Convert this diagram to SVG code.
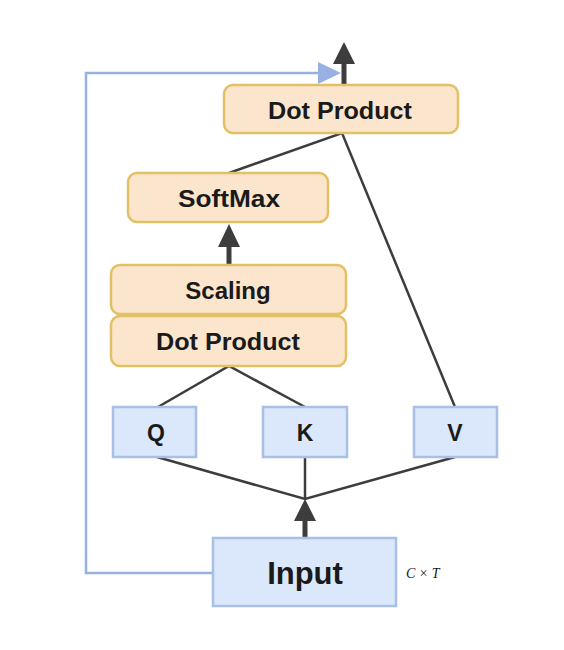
<svg xmlns="http://www.w3.org/2000/svg" width="564" height="650" viewBox="0 0 564 650">
<style>
.o{fill:#fbe6cd;stroke:#e2c066;stroke-width:2.5}
.b{fill:#dbe7fa;stroke:#a9c0e6;stroke-width:2.5}
.t{font-family:"Liberation Sans",Arial,sans-serif;font-weight:bold;fill:#1a1a1a;text-anchor:middle;dominant-baseline:central}
.l{fill:none;stroke:#3d3d3d;stroke-width:2.5}
.a{fill:none;stroke:#3d3d3d;stroke-width:5}
.h{fill:#3d3d3d}
</style>
<rect width="564" height="650" fill="#fff"/>
<g id="connectors">
<polyline points="213,573 86,573 86,73 320,73" fill="none" stroke="#98b0e2" stroke-width="2.5"/>
<polygon points="341,73 318,62 318,84" fill="#98b0e2"/>
<line class="a" x1="344" y1="85" x2="344" y2="62"/>
<polygon class="h" points="344,42 333,64 355,64"/>
<polyline class="l" points="229,173 342,133 455,407"/>
<line class="a" x1="229" y1="265" x2="229" y2="245"/>
<polygon class="h" points="229,224 218,247 240,247"/>
<polyline class="l" points="158,407 229,366 305,407"/>
<polyline class="l" points="157,457 305,499 455,457"/>
<line class="l" x1="305" y1="457" x2="305" y2="499"/>
<line class="a" x1="305" y1="538" x2="305" y2="518"/>
<polygon class="h" points="305,499 294,521 316,521"/>
</g>
<g id="dot2"><rect class="o" x="224" y="85" width="234" height="48" rx="9"/><text class="t" x="340" y="110" font-size="24" textLength="144" lengthAdjust="spacingAndGlyphs">Dot Product</text></g>
<g id="softmax"><rect class="o" x="128" y="173" width="200" height="49" rx="9"/><text class="t" x="229" y="198" font-size="24" textLength="102" lengthAdjust="spacingAndGlyphs">SoftMax</text></g>
<g id="scaling"><rect class="o" x="111" y="265" width="235" height="49" rx="9"/><text class="t" x="228" y="290" font-size="24">Scaling</text></g>
<g id="dot1"><rect class="o" x="111" y="316" width="235" height="50" rx="9"/><text class="t" x="228" y="341" font-size="24" textLength="144" lengthAdjust="spacingAndGlyphs">Dot Product</text></g>
<g id="q"><rect class="b" x="113" y="407" width="83" height="50"/><text class="t" x="156" y="433" font-size="23">Q</text></g>
<g id="k"><rect class="b" x="263" y="407" width="84" height="50"/><text class="t" x="305" y="433" font-size="23">K</text></g>
<g id="v"><rect class="b" x="414" y="407" width="83" height="50"/><text class="t" x="455" y="433" font-size="23">V</text></g>
<g id="input"><rect class="b" x="213" y="538" width="183" height="68"/><text class="t" x="305" y="573" font-size="31">Input</text></g>
<text x="406" y="578" font-family="'Liberation Serif',serif" font-style="italic" font-size="14" fill="#1a1a1a">C × T</text>
</svg>
